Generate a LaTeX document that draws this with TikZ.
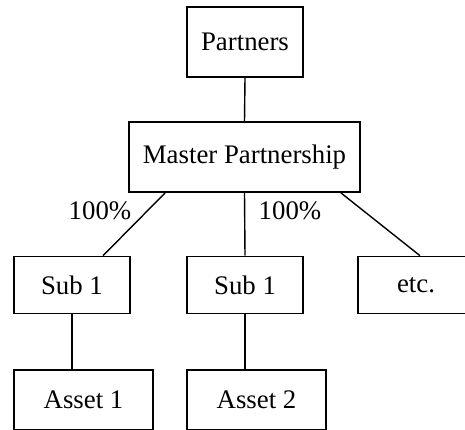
\documentclass[tikz,border=0pt]{standalone}
\usepackage{fontspec}
\setmainfont{Liberation Serif}
\begin{document}
\begin{tikzpicture}[x=1pt,y=1pt,
  box/.style={draw,line width=1.6pt,inner sep=0pt,anchor=center,
    font=\fontsize{26.8}{30}\selectfont},
  link/.style={line width=1.4pt},
  pct/.style={font=\fontsize{26.8}{30}\selectfont,inner sep=0pt}]
\useasboundingbox (0,0) rectangle (465,429);
\clip (0,0) rectangle (465,429);
\node[box,minimum width=116pt,minimum height=70pt] (partners) at (245,387) {Partners};
\node[box,minimum width=231pt,minimum height=70pt] (master) at (244.5,272) {Master Partnership};
\node[box,minimum width=116pt,minimum height=57pt] (sub1a) at (72,144) {Sub 1};
\node[box,minimum width=116pt,minimum height=57pt] (sub1b) at (245,144) {Sub 1};
\node[box,minimum width=116pt,minimum height=57pt] (etc) at (416,144) {etc.};
\node[box,minimum width=139pt,minimum height=60pt] (asset1) at (83.5,29) {Asset 1};
\node[box,minimum width=139pt,minimum height=60pt] (asset2) at (256.5,29) {Asset 2};
\draw[link] (partners.south) -- (master.north);
\draw[link] ([xshift=37pt]master.south west) -- ([xshift=31pt]sub1a.north);
\draw[link] (master.south) -- (sub1b.north);
\draw[link] ([xshift=-20pt]master.south east) -- ([xshift=4pt]etc.north);
\draw[link] (sub1a.south) -- (sub1a.south |- asset1.north);
\draw[link] (sub1b.south) -- (sub1b.south |- asset2.north);
\node[pct] (pa) at (100,218) {100\%};
\node[pct] (pb) at (290,218) {100\%};
\end{tikzpicture}
\end{document}
